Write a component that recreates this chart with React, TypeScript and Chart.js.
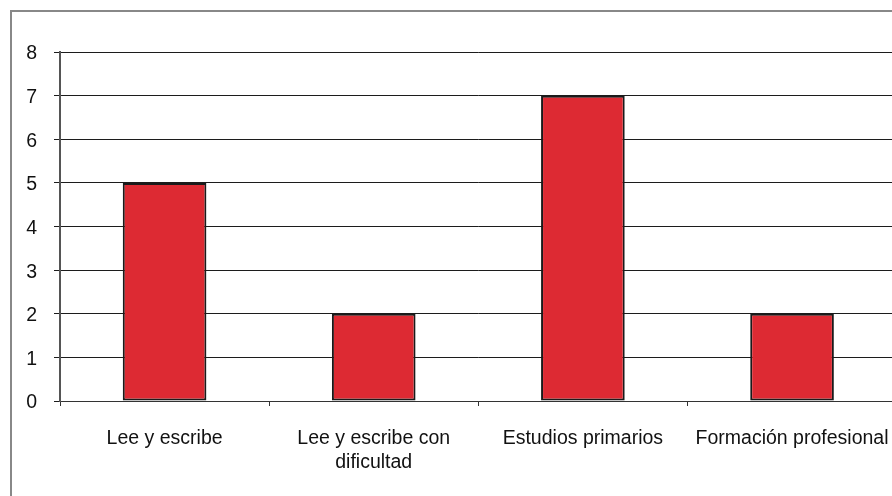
import React, { useEffect, useRef } from "react";
import { Chart, registerables } from "chart.js";

Chart.register(...registerables);

const categories: (string | string[])[] = [
  "Lee y escribe",
  ["Lee y escribe con", "dificultad"],
  "Estudios primarios",
  "Formación profesional",
];
const counts = [5, 2, 7, 2];
const yMin = 0;
const yMax = 8;
const yStep = 1;

const FONT = "'Liberation Sans', Arial, Helvetica, sans-serif";

export default function App() {
  const canvasRef = useRef<HTMLCanvasElement | null>(null);

  useEffect(() => {
    if (!canvasRef.current) return;
    const chart = new Chart(canvasRef.current, {
      type: "bar",
      data: {
        labels: categories,
        datasets: [
          {
            data: counts,
            backgroundColor: "#DD2A33",
            borderColor: "#1a1a1a",
            borderWidth: 2,
            borderSkipped: false,
            barPercentage: 0.4,
            categoryPercentage: 1,
          },
        ],
      },
      options: {
        responsive: false,
        animation: false,
        layout: { padding: { left: 0, top: 52, right: 12, bottom: 0 } },
        plugins: {
          legend: { display: false },
          tooltip: { enabled: false },
        },
        scales: {
          x: {
            grid: {
              offset: true,
              drawOnChartArea: false,
              drawTicks: true,
              tickLength: 5,
              color: "#333",
              lineWidth: 1,
            },
            border: { display: true, color: "#333", width: 1 },
            ticks: {
              color: "#111",
              font: { family: FONT, size: 19.5, lineHeight: 1.25 },
              padding: 20,
              maxRotation: 0,
              autoSkip: false,
            },
            afterFit: (scale: any) => {
              scale.height = 95;
            },
          },
          y: {
            min: yMin,
            max: yMax,
            grid: {
              color: "#1c1c1c",
              lineWidth: 1,
              drawTicks: true,
              tickLength: 6,
            },
            border: { display: true, color: "#555", width: 2 },
            ticks: {
              stepSize: yStep,
              color: "#111",
              font: { family: FONT, size: 19.5 },
              padding: 17,
              labelOffset: 2,
            },
            afterFit: (scale: any) => {
              scale.width = 60;
            },
          },
        },
      },
    });
    return () => chart.destroy();
  }, []);

  return (
    <div
      style={{
        position: "fixed",
        left: 0,
        top: 0,
        width: 892,
        height: 496,
        overflow: "hidden",
        background: "#fff",
      }}
    >
      <div
        style={{
          position: "absolute",
          left: 10,
          top: 10,
          width: 920,
          height: 520,
          border: "2px solid #888",
          boxSizing: "border-box",
        }}
      />
      <canvas
        ref={canvasRef}
        width={910}
        height={496}
        style={{ position: "absolute", left: 0, top: 0 }}
      />
    </div>
  );
}
